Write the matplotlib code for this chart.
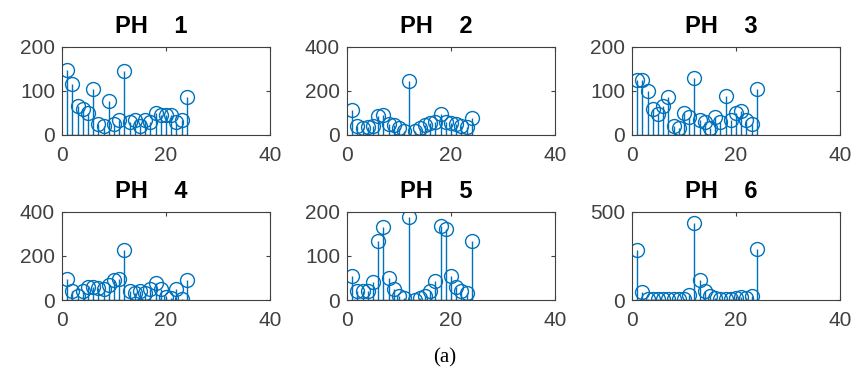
import numpy as np
import matplotlib.pyplot as plt

plt.rcParams['font.family'] = ['Liberation Sans', 'DejaVu Sans']

hours = np.arange(1, 25)

ph1 = [148, 116, 65, 60, 50, 105, 25, 20, 77, 25, 35, 146, 30, 35, 20, 35, 30, 50, 45, 45, 45, 30, 35, 85]
ph2 = [112, 40, 30, 35, 40, 85, 90, 50, 45, 30, 20, 243, 20, 30, 45, 55, 60, 97, 60, 55, 50, 40, 35, 75]
ph3 = [125, 125, 100, 60, 48, 65, 85, 20, 15, 50, 40, 130, 35, 30, 15, 40, 30, 88, 35, 50, 55, 35, 25, 105]
ph4 = [95, 40, 20, 40, 60, 60, 55, 50, 70, 90, 95, 226, 40, 30, 40, 30, 50, 75, 50, 15, 10, 50, 5, 92]
ph5 = [55, 20, 20, 20, 40, 133, 165, 50, 25, 10, 5, 188, 0, 5, 10, 20, 42, 168, 160, 54, 30, 20, 15, 133]
ph6 = [283, 48, 5, 5, 5, 5, 5, 5, 5, 5, 30, 436, 115, 50, 25, 10, 5, 5, 5, 10, 15, 10, 25, 288]

series = [ph1, ph2, ph3, ph4, ph5, ph6]
titles = ['PH    1', 'PH    2', 'PH    3', 'PH    4', 'PH    5', 'PH    6']
ylims = [200, 400, 200, 400, 200, 500]
yticks = [[0, 100, 200], [0, 200, 400], [0, 100, 200], [0, 200, 400], [0, 100, 200], [0, 500]]

blue = '#0072BD'
fig = plt.figure(figsize=(8.58, 3.79), dpi=100)

lefts = [0.0723, 0.4044, 0.7366]
bottoms = [0.6438, 0.2084]
for i, y in enumerate(series):
    r, c = divmod(i, 3)
    ax = fig.add_axes([lefts[c], bottoms[r], 0.2424, 0.233])
    markers, stems, base = ax.stem(hours, y, basefmt='-')
    plt.setp(stems, color=blue, linewidth=1)
    plt.setp(markers, color=blue, markerfacecolor='none', markersize=10, markeredgewidth=1)
    plt.setp(base, color='#333333', linewidth=1)
    ax.set_xlim(0, 40)
    ax.set_ylim(0, ylims[i])
    ax.set_xticks([0, 20, 40])
    ax.set_yticks(yticks[i])
    ax.tick_params(direction='in', top=True, right=True, labelsize=15,
                   colors='#404040', length=3)
    ax.tick_params(axis='x', pad=8)
    ax.tick_params(axis='y', pad=5)
    for s in ax.spines.values():
        s.set_color('#404040')
    ax.set_title(titles[i], fontsize=17, fontweight='bold', pad=10, x=0.43)

fig.text(0.518, 0.055, '(a)', ha='center', va='center', fontsize=15,
         family=['Liberation Serif', 'DejaVu Serif'])

fig.savefig('out.png', dpi=100)
